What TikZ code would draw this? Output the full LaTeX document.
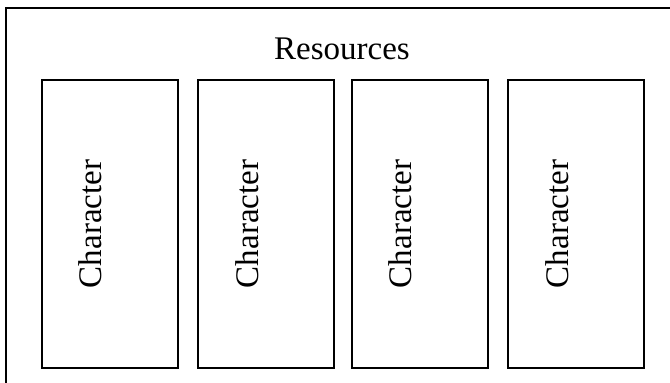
\documentclass[tikz,border=0pt]{standalone}
\usepackage{fontspec}
\setmainfont{Liberation Serif}
\begin{document}
\begin{tikzpicture}[x=1pt,y=-1pt,
  frame/.style={draw=black,line width=2pt},
  charbox/.style={frame,fill=white,minimum width=136pt,minimum height=288pt,inner sep=0pt},
  lbl/.style={font=\fontsize{33}{36}\selectfont,inner sep=0pt},
]
\useasboundingbox (0,0) rectangle (670,383);
\clip (0,0) rectangle (670,383);
\draw[frame] (6,8) rectangle (680,395);
\node[lbl] (res) at (342,48.5) {Resources};
\node[charbox] (b1) at (109.5,224) {};
\node[charbox] (b2) at (266,224) {};
\node[charbox] (b3) at (419.5,224) {};
\node[charbox] (b4) at (576,224) {};
\foreach \i in {1,2,3,4}{
  \node[lbl,rotate=90] (t\i) at ([xshift=-19pt]b\i.center) {Character};
}
\end{tikzpicture}
\end{document}
